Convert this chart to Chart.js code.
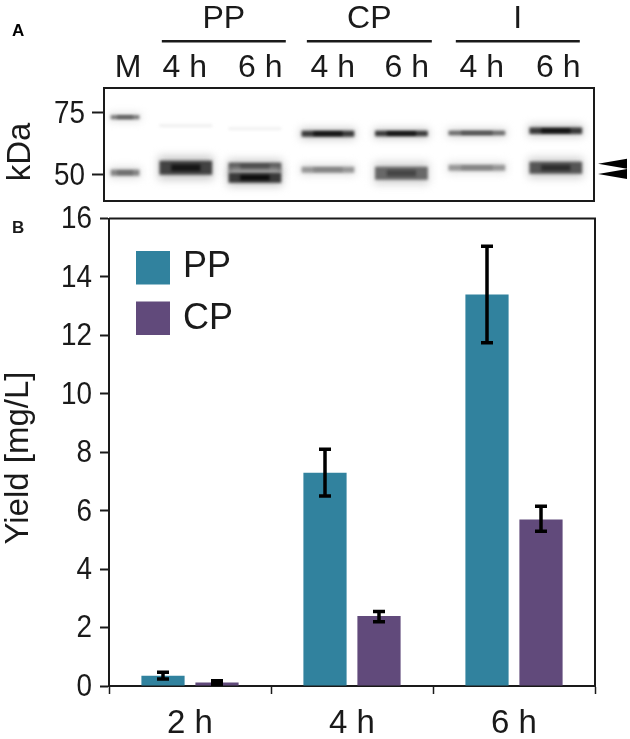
<!DOCTYPE html>
<html>
<head>
<meta charset="utf-8">
<script src="https://cdn.jsdelivr.net/npm/chart.js@4"></script>
<style>
  html, body { margin: 0; padding: 0; background: #fff; }
  #blotBox { position: absolute; left: 0; top: 0; width: 630px; height: 210px; }
  #yieldBox { position: absolute; left: 0; top: 205px; width: 630px; height: 534px; }
</style>
</head>
<body>
<div id="blotBox"><canvas id="blotChart"></canvas></div>
<div id="yieldBox"><canvas id="yieldChart"></canvas></div>
<script>
const FONT = '"Liberation Sans", Arial, sans-serif';
const INK = '#1a1a1a';

// Panel A: gel lanes, read on a 0-100 scale across the blot width
const laneNames = ['M', '4 h', '6 h', '4 h', '6 h', '4 h', '6 h'];
const laneLabelPos = [4.9, 16.5, 31.9, 46.7, 61.8, 77.1, 92.7];
const laneCenters = [4.3, 16.7, 30.8, 45.7, 60.7, 76.1, 92.2];
const groupNames = ['PP', 'CP', 'I'];
const groupStart = [11.8, 41.4, 71.8];
const groupEnd = [37.1, 66.9, 97.1];
const kdaTicks = [50, 75];
const arrowKda = [54.5, 50.4];

// Panel A: bands (lane index, top and bottom in kDa, density 0-1)
const bandLane = [0, 0, 1, 2, 1, 2, 2, 3, 4, 5, 6, 3, 4, 5, 6];
const bandTop = [73.9, 52.0, 70.2, 69.0, 55.6, 54.8, 50.8, 67.7, 67.7, 67.7, 69.0, 53.2, 53.2, 54.0, 55.2];
const bandBottom = [72.6, 49.8, 69.5, 68.3, 50.2, 51.2, 47.0, 65.5, 65.7, 66.1, 66.6, 51.0, 48.2, 51.8, 50.6];
const bandDensity = [0.7, 0.6, 0.06, 0.05, 0.95, 0.9, 1, 1, 1, 0.75, 1, 0.5, 0.75, 0.5, 0.85];

// Panel B: yield
const timeLabels = ['2 h', '4 h', '6 h'];
const ppYield = [0.35, 7.3, 13.4];
const cpYield = [0.12, 2.4, 5.7];
const ppErrLow = [0.24, 6.5, 11.75];
const ppErrHigh = [0.47, 8.1, 15.05];
const cpErrLow = [0.06, 2.2, 5.3];
const cpErrHigh = [0.18, 2.55, 6.15];

function grey(density) {
  const v = Math.round(245 - 235 * density);
  return 'rgb(' + v + ',' + v + ',' + v + ')';
}

function band(lane, low, high, width, density, blur) {
  return {
    data: [{ x: laneCenters[lane], y: [low, high] }],
    backgroundColor: grey(density),
    barThickness: width,
    grouped: false,
    blur: blur
  };
}

// every band is a faint halo, a soft body and a darker narrow core
const bandSets = [];
bandLane.forEach(function (lane, i) {
  const wide = lane === 0 ? 28 : (lane === 5 ? 56 : 52);
  const d = bandDensity[i];
  const mid = (bandTop[i] + bandBottom[i]) / 2;
  const half = (bandTop[i] - bandBottom[i]) / 2;
  if (d > 0.1) {
    bandSets.push(band(lane, mid - half * 1.7, mid + half * 1.7, wide + 2, d * 0.2, 4));
  }
  bandSets.push(band(lane, bandBottom[i], bandTop[i], wide, d * 0.8, 1.8));
  if (d > 0.1) {
    bandSets.push(band(lane, mid - half * 0.45, mid + half * 0.45, wide * 0.55, d, 1.8));
  }
});
// chart.js paints the last dataset first
bandSets.reverse();

// tick labels in the figure are a little condensed, so they are drawn here
function drawCondensedTicks(chart, right) {
  const ctx = chart.ctx;
  const y = chart.scales.y;
  ctx.save();
  ctx.fillStyle = INK;
  ctx.font = '32px ' + FONT;
  ctx.textAlign = 'right';
  ctx.textBaseline = 'middle';
  y.ticks.forEach(function (t, i) {
    ctx.save();
    ctx.translate(right, y.getPixelForTick(i) + 1);
    ctx.scale(0.87, 1);
    ctx.fillText(t.label, 0, 0);
    ctx.restore();
  });
  ctx.restore();
}

function drawAxisTitle(chart, text, x, y) {
  const ctx = chart.ctx;
  ctx.save();
  ctx.fillStyle = INK;
  ctx.font = '33px ' + FONT;
  ctx.textAlign = 'center';
  ctx.textBaseline = 'middle';
  ctx.translate(x, y);
  ctx.rotate(-Math.PI / 2);
  ctx.fillText(text, 0, 0);
  ctx.restore();
}

function noAutoPadding(scale) {
  scale.paddingTop = 0;
  scale.paddingBottom = 0;
  scale.paddingLeft = 0;
  scale.paddingRight = 0;
}

const blurPlugin = {
  id: 'blur',
  beforeDatasetDraw(chart, args) {
    chart.ctx.filter = 'blur(' + chart.data.datasets[args.index].blur + 'px)';
  },
  afterDatasetDraw(chart) {
    chart.ctx.filter = 'none';
  }
};

const blotDecor = {
  id: 'blotDecor',
  afterDraw(chart) {
    const ctx = chart.ctx;
    const a = chart.chartArea;
    const x = chart.scales.x;
    const y = chart.scales.y;
    ctx.save();
    ctx.strokeStyle = INK;
    ctx.lineWidth = 2;
    ctx.strokeRect(a.left, a.top, a.right - a.left, a.bottom - a.top);

    ctx.fillStyle = INK;
    ctx.textAlign = 'center';
    ctx.textBaseline = 'alphabetic';
    ctx.font = '32px ' + FONT;
    groupNames.forEach(function (name, i) {
      const x0 = x.getPixelForValue(groupStart[i]);
      const x1 = x.getPixelForValue(groupEnd[i]);
      ctx.fillRect(x0, 40, x1 - x0, 2.5);
      ctx.fillText(name, (x0 + x1) / 2, 28);
    });

    ctx.fillStyle = '#000';
    arrowKda.forEach(function (kda) {
      const py = y.getPixelForValue(kda);
      ctx.beginPath();
      ctx.moveTo(598, py);
      ctx.lineTo(627, py - 5);
      ctx.lineTo(627, py + 5);
      ctx.closePath();
      ctx.fill();
    });

    ctx.textAlign = 'left';
    ctx.font = 'bold 17px ' + FONT;
    ctx.fillText('A', 12, 36);
    ctx.restore();

    drawCondensedTicks(chart, 85);
    drawAxisTitle(chart, 'kDa', 21, 152);
  }
};

new Chart(document.getElementById('blotChart'), {
  type: 'bar',
  data: { datasets: bandSets },
  plugins: [blurPlugin, blotDecor],
  options: {
    responsive: true,
    maintainAspectRatio: false,
    animation: false,
    layout: { padding: { left: 0, right: 36, top: 0, bottom: 9 } },
    plugins: { legend: { display: false }, tooltip: { enabled: false } },
    scales: {
      x: {
        type: 'linear',
        position: 'top',
        offset: false,
        min: 0,
        max: 100,
        grid: { display: false, drawTicks: false },
        border: { display: false },
        afterBuildTicks(scale) {
          scale.ticks = laneLabelPos.map(function (v) { return { value: v }; });
        },
        afterFit(scale) { noAutoPadding(scale); scale.height = 88; },
        ticks: {
          autoSkip: false,
          maxRotation: 0,
          padding: 1,
          color: INK,
          font: { family: FONT, size: 32 },
          callback(value, index) { return laneNames[index]; }
        }
      },
      y: {
        type: 'linear',
        min: 39.5,
        max: 85,
        grid: { drawOnChartArea: false, tickLength: 12, color: INK, tickWidth: 2 },
        border: { display: false },
        afterBuildTicks(scale) {
          scale.ticks = kdaTicks.map(function (v) { return { value: v }; });
        },
        afterFit(scale) { noAutoPadding(scale); scale.width = 104; },
        ticks: { display: false, autoSkip: false }
      }
    }
  }
});

// Panel B
const errorBars = {
  id: 'errorBars',
  afterDatasetsDraw(chart) {
    const ctx = chart.ctx;
    const y = chart.scales.y;
    const lows = [ppErrLow, cpErrLow];
    const highs = [ppErrHigh, cpErrHigh];
    ctx.save();
    ctx.strokeStyle = '#000';
    ctx.lineWidth = 3.5;
    chart.data.datasets.forEach(function (ds, d) {
      chart.getDatasetMeta(d).data.forEach(function (bar, i) {
        const top = y.getPixelForValue(highs[d][i]);
        const bottom = y.getPixelForValue(lows[d][i]);
        ctx.beginPath();
        ctx.moveTo(bar.x, top);
        ctx.lineTo(bar.x, bottom);
        ctx.moveTo(bar.x - 6, top);
        ctx.lineTo(bar.x + 6, top);
        ctx.moveTo(bar.x - 6, bottom);
        ctx.lineTo(bar.x + 6, bottom);
        ctx.stroke();
      });
    });
    ctx.restore();
  }
};

const yieldDecor = {
  id: 'yieldDecor',
  afterDraw(chart) {
    const ctx = chart.ctx;
    const a = chart.chartArea;
    ctx.save();
    ctx.strokeStyle = INK;
    ctx.lineWidth = 2;
    ctx.beginPath();
    ctx.moveTo(a.left, a.top);
    ctx.lineTo(a.right, a.top);
    ctx.lineTo(a.right, a.bottom);
    ctx.stroke();

    // legend, inside the plot area
    ctx.font = '36px ' + FONT;
    ctx.textBaseline = 'middle';
    chart.data.datasets.forEach(function (ds, i) {
      ctx.fillStyle = ds.backgroundColor;
      ctx.fillRect(136, 46 + i * 50.5, 34, 33.5);
      ctx.fillStyle = INK;
      ctx.fillText(ds.label, 183, 62 + i * 52);
    });

    ctx.font = 'bold 17px ' + FONT;
    ctx.textBaseline = 'alphabetic';
    ctx.fillText('B', 12, 28);
    ctx.restore();

    drawCondensedTicks(chart, 92);
    drawAxisTitle(chart, 'Yield [mg/L]', 19, 253);
  }
};

new Chart(document.getElementById('yieldChart'), {
  type: 'bar',
  data: {
    labels: timeLabels,
    datasets: [
      { label: 'PP', data: ppYield, backgroundColor: '#31829e' },
      { label: 'CP', data: cpYield, backgroundColor: '#614a7b' }
    ]
  },
  plugins: [errorBars, yieldDecor],
  options: {
    responsive: true,
    maintainAspectRatio: false,
    animation: false,
    layout: { padding: { left: 0, right: 35, top: 13.5, bottom: 0 } },
    plugins: { legend: { display: false }, tooltip: { enabled: false } },
    datasets: { bar: { categoryPercentage: 2 / 3, barPercentage: 0.8 } },
    scales: {
      x: {
        grid: { drawOnChartArea: false, offset: true, tickLength: 8, color: INK, tickWidth: 1.5 },
        border: { color: INK, width: 2 },
        afterFit(scale) { noAutoPadding(scale); scale.height = 53; },
        ticks: {
          padding: 10,
          color: INK,
          font: { family: FONT, size: 33 }
        }
      },
      y: {
        min: 0,
        max: 16,
        grid: { drawOnChartArea: false, tickLength: 9, color: INK, tickWidth: 2 },
        border: { color: INK, width: 2 },
        afterFit(scale) { noAutoPadding(scale); scale.width = 109; },
        ticks: { display: false, stepSize: 2 }
      }
    }
  }
});
</script>
</body>
</html>
